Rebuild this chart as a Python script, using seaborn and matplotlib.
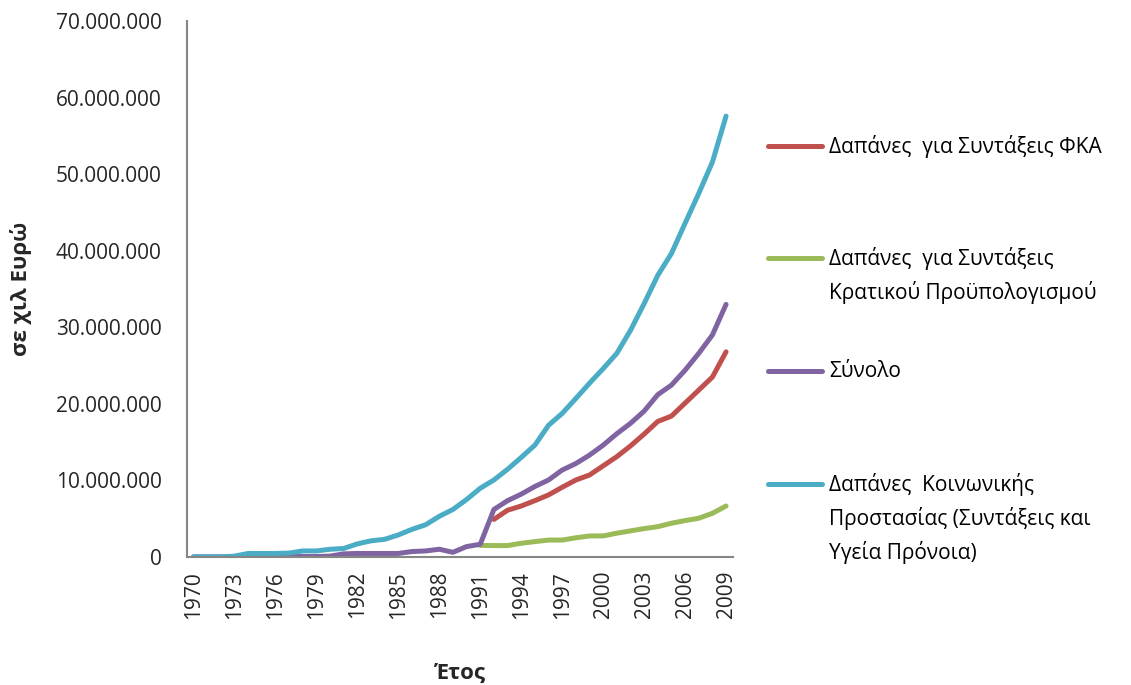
import matplotlib.pyplot as plt
import matplotlib.ticker as mticker
import seaborn as sns
import pandas as pd
import numpy as np

# δεδομένα (εκτίμηση από το γράφημα, σε χιλ. ευρώ)
years = list(range(1970, 2010))

ika_pensions = [np.nan] * 22 + [
    4.9e6, 6.1e6, 6.65e6, 7.35e6, 8.1e6, 9.1e6, 10.05e6, 10.7e6, 11.9e6,
    13.1e6, 14.5e6, 16.05e6, 17.7e6, 18.4e6, 20.1e6, 21.8e6, 23.5e6, 26.8e6]

state_pensions = [np.nan] * 21 + [
    1.5e6, 1.48e6, 1.48e6, 1.78e6, 2.0e6, 2.2e6, 2.2e6, 2.5e6, 2.74e6, 2.74e6,
    3.1e6, 3.4e6, 3.7e6, 3.95e6, 4.4e6, 4.75e6, 5.05e6, 5.7e6, 6.65e6]

total = [
    0, 0, 0, 0, 0, 0, 0.05e6, 0.05e6, 0.05e6, 0.05e6,
    0.1e6, 0.4e6, 0.45e6, 0.45e6, 0.45e6, 0.45e6, 0.7e6, 0.78e6, 1.0e6, 0.6e6,
    1.35e6, 1.65e6, 6.2e6, 7.35e6, 8.2e6, 9.2e6, 10.05e6, 11.35e6, 12.2e6, 13.3e6,
    14.6e6, 16.1e6, 17.45e6, 19.05e6, 21.2e6, 22.45e6, 24.4e6, 26.6e6, 29.0e6, 33.0e6]

social_protection = [
    0, 0, 0, 0.1e6, 0.45e6, 0.45e6, 0.45e6, 0.5e6, 0.78e6, 0.78e6,
    1.0e6, 1.1e6, 1.7e6, 2.1e6, 2.3e6, 2.87e6, 3.6e6, 4.2e6, 5.3e6, 6.2e6,
    7.5e6, 8.97e6, 10.05e6, 11.45e6, 13.0e6, 14.6e6, 17.2e6, 18.75e6, 20.7e6, 22.7e6,
    24.6e6, 26.6e6, 29.6e6, 33.1e6, 36.8e6, 39.65e6, 43.6e6, 47.5e6, 51.6e6, 57.6e6]

series_names = [
    "Δαπάνες  για Συντάξεις ΦΚΑ",
    "Δαπάνες  για Συντάξεις\nΚρατικού Προϋπολογισμού",
    "Σύνολο",
    "Δαπάνες  Κοινωνικής\nΠροστασίας (Συντάξεις και\nΥγεία Πρόνοια)",
]
colors = ["#C0504D", "#9BBB59", "#8064A2", "#4BACC6"]

frames = []
for name, vals in zip(series_names, [ika_pensions, state_pensions, total, social_protection]):
    frames.append(pd.DataFrame({"year": years, "value": vals, "series": name}))
df = pd.concat(frames).dropna()

sns.set_style("white")
plt.rcParams['font.family'] = ['Open Sans', 'DejaVu Sans']

W, H = 1131, 685
fig = plt.figure(figsize=(W / 100, H / 100), dpi=100)
ax = fig.add_axes([0.165, 0.187, 0.483, 0.782])

sns.lineplot(data=df, x="year", y="value", hue="series", hue_order=series_names,
             palette=colors, linewidth=3.6, ax=ax, legend=False)

ax.set_xlim(1969.5, 2009.5)
ax.set_ylim(0, 70e6)
ax.yaxis.set_major_locator(mticker.MultipleLocator(10e6))
ax.yaxis.set_major_formatter(mticker.FuncFormatter(lambda v, p: f"{int(v):,}".replace(",", ".")))

ax.set_xticks(years[::3])
ax.set_xticklabels([str(y) for y in years[::3]], rotation=90)
ax.set_xticks(np.arange(1969.5, 2010.5, 1), minor=True)
ax.tick_params(axis='x', which='major', length=0, pad=10, labelsize=15)
ax.tick_params(axis='x', which='minor', length=6, width=1.2, color='#868686', direction='out')
ax.tick_params(axis='y', which='major', length=7, width=1.2, color='#868686', direction='out',
               labelsize=15, pad=11)

for s in ['top', 'right']:
    ax.spines[s].set_visible(False)
for s in ['left', 'bottom']:
    ax.spines[s].set_color('#868686')
    ax.spines[s].set_linewidth(1.5)

ax.set_xlabel("Έτος", fontsize=16, fontweight='bold', labelpad=32)
ax.set_ylabel("σε χιλ Ευρώ", fontsize=16, fontweight='bold', labelpad=17)

# υπόμνημα: η γραμμή στο ύψος της πρώτης γραμμής κειμένου
entry_top = [146, 258, 371, 484]
line_gap = 34
for name, c, ytop in zip(series_names, colors, entry_top):
    yf = 1 - ytop / H
    fig.add_artist(plt.Line2D([768 / W, 822 / W], [yf, yf], color=c, linewidth=3.6,
                              solid_capstyle='round', transform=fig.transFigure))
    for j, part in enumerate(name.split("\n")):
        fig.text(829 / W, 1 - (ytop + j * line_gap) / H, part, fontsize=15,
                 va='center', ha='left', color='black')

fig.savefig("out.png", dpi=100)
